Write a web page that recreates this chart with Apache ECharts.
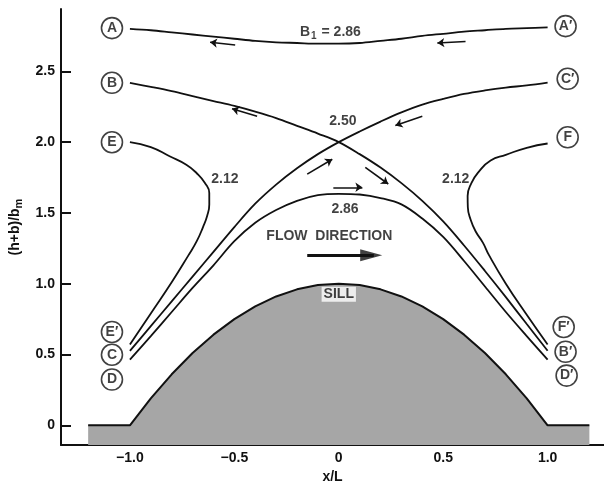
<!DOCTYPE html>
<html><head><meta charset="utf-8">
<script src="https://cdn.jsdelivr.net/npm/echarts@6/dist/echarts.min.js"></script>
<style>html,body{margin:0;padding:0;background:#fff}#c{width:604px;height:489px}</style>
</head><body><div id="c"></div>
<script>
// ---- data ----
const xTicks = [-1, -0.5, 0, 0.5, 1];
const yTicks = [0, 0.5, 1, 1.5, 2, 2.5];
const xTickLabels = ['\u22121.0', '\u22120.5', '0', '0.5', '1.0'];
const yTickLabels = ['0', '0.5', '1.0', '1.5', '2.0', '2.5'];

const sillX = [-1.2, -1.0, -0.9, -0.8, -0.7, -0.6, -0.5, -0.4, -0.3, -0.2, -0.1, 0, 0.1, 0.2, 0.3, 0.4, 0.5, 0.6, 0.7, 0.8, 0.9, 1.0, 1.2];
const sillY = [0, 0, 0.19, 0.36, 0.51, 0.64, 0.75, 0.84, 0.91, 0.96, 0.99, 1.0, 0.99, 0.96, 0.91, 0.84, 0.75, 0.64, 0.51, 0.36, 0.19, 0, 0];

const curveX = [-1.0, -0.9, -0.8, -0.7, -0.6, -0.5, -0.4, -0.3, -0.2, -0.1, 0, 0.1, 0.2, 0.3, 0.4, 0.5, 0.6, 0.7, 0.8, 0.9, 1.0];
const curveA = [2.80, 2.79, 2.775, 2.76, 2.745, 2.73, 2.715, 2.705, 2.70, 2.695, 2.695, 2.70, 2.715, 2.73, 2.75, 2.765, 2.78, 2.79, 2.80, 2.805, 2.81];
const curveB = [2.418, 2.39, 2.36, 2.325, 2.29, 2.255, 2.215, 2.17, 2.115, 2.06, 2.0, 1.915, 1.82, 1.71, 1.585, 1.44, 1.27, 1.09, 0.905, 0.715, 0.526];
const curveC = [0.526, 0.70, 0.875, 1.05, 1.225, 1.40, 1.565, 1.70, 1.815, 1.915, 2.0, 2.075, 2.145, 2.21, 2.265, 2.305, 2.34, 2.365, 2.385, 2.40, 2.42];
const curveD = [0.463, 0.63, 0.80, 0.97, 1.13, 1.30, 1.43, 1.52, 1.585, 1.625, 1.635, 1.63, 1.605, 1.56, 1.46, 1.33, 1.16, 0.98, 0.80, 0.63, 0.463];

const curveEX = [-1.0, -0.9, -0.81, -0.73, -0.68, -0.64, -0.62, -0.62, -0.63, -0.65, -0.68, -0.72, -0.8, -0.9, -1.0];
const curveEY = [2.0, 1.965, 1.90, 1.84, 1.78, 1.71, 1.64, 1.56, 1.48, 1.40, 1.30, 1.20, 1.01, 0.79, 0.57];
const curveFX = [1.0, 0.9, 0.8, 0.727, 0.67, 0.635, 0.617, 0.618, 0.632, 0.655, 0.69, 0.72, 0.8, 0.9, 1.0];
const curveFY = [1.99, 1.96, 1.91, 1.87, 1.79, 1.71, 1.62, 1.54, 1.45, 1.37, 1.29, 1.20, 1.0, 0.78, 0.57];

// small flow arrows: [tail, head]
const arrowTails = [[-0.496, 2.686], [0.607, 2.71], [-0.391, 2.183], [-0.151, 1.774], [0.40, 2.183], [0.127, 1.821], [-0.026, 1.681]];
const arrowHeads = [[-0.616, 2.705], [0.472, 2.70], [-0.511, 2.235], [-0.031, 1.879], [0.271, 2.118], [0.237, 1.704], [0.113, 1.681]];
const flowTail = [-0.151, 1.201];
const flowHead = [0.208, 1.201];

const circleNames = ['A', 'B', 'E', 'E\u2032', 'C', 'D', 'A\u2032', 'C\u2032', 'F', 'F\u2032', 'B\u2032', 'D\u2032'];
const circleX = [-1.086, -1.086, -1.086, -1.086, -1.086, -1.086, 1.086, 1.096, 1.096, 1.077, 1.086, 1.091];
const circleY = [2.805, 2.419, 1.999, 0.659, 0.498, 0.323, 2.819, 2.447, 2.034, 0.694, 0.519, 0.351];

const noteText = ['{b|B}{s|1}{b| = 2.86}', '2.50', '2.12', '2.12', '2.86', 'FLOW  DIRECTION'];
const noteX = [-0.04, 0.02, -0.545, 0.56, 0.03, -0.045];
const noteY = [2.78, 2.148, 1.74, 1.74, 1.529, 1.334];
const sillLabel = ['SILL'];
const sillLabelX = [0.0];
const sillLabelY = [0.925];

// ---- chart ----
const FONT = '"Liberation Sans", Arial, sans-serif';
const zip = (xs, ys) => xs.map((x, i) => [x, ys[i]]);
const curveStyle = { color: '#111', width: 1.8 };
const mkCurve = (data, smooth) => ({
  type: 'line', data, smooth, symbol: 'none', lineStyle: curveStyle, z: 3, silent: true, animation: false
});

const chart = echarts.init(document.getElementById('c'), null, { renderer: 'canvas' });
chart.setOption({
  backgroundColor: '#fff',
  animation: false,
  grid: { left: 61, right: 0, top: 9, bottom: 41, containLabel: false },
  xAxis: {
    type: 'value', min: -1.33, max: 1.27,
    name: 'x/L', nameLocation: 'middle', nameGap: 24,
    nameTextStyle: { fontFamily: FONT, fontSize: 14, fontWeight: 'bold', color: '#111' },
    axisLine: { show: true, onZero: false, lineStyle: { color: '#111', width: 2 } },
    axisTick: { show: true, inside: true, length: 7, customValues: xTicks, lineStyle: { color: '#111', width: 2 } },
    axisLabel: {
      customValues: xTicks, margin: 6, fontFamily: FONT, fontSize: 14, fontWeight: 'bold', color: '#111',
      formatter: v => xTickLabels[xTicks.findIndex(t => Math.abs(t - v) < 1e-6)] ?? ''
    },
    splitLine: { show: false }
  },
  yAxis: {
    type: 'value', min: -0.14, max: 2.94,
    name: '(h+b)/b{sub|m}', nameLocation: 'middle', nameGap: 37, nameRotate: 90,
    nameTextStyle: { fontFamily: FONT, fontSize: 14, fontWeight: 'bold', color: '#111',
      rich: { sub: { fontFamily: FONT, fontSize: 11, fontWeight: 'bold', color: '#111', verticalAlign: 'bottom', padding: [6, 0, 0, 0] } } },
    axisLine: { show: true, onZero: false, lineStyle: { color: '#111', width: 2 } },
    axisTick: { show: true, inside: true, length: 10, customValues: yTicks, lineStyle: { color: '#111', width: 2 } },
    axisLabel: {
      customValues: yTicks, margin: 6, fontFamily: FONT, fontSize: 14, fontWeight: 'bold', color: '#111',
      formatter: v => yTickLabels[yTicks.findIndex(t => Math.abs(t - v) < 1e-6)] ?? ''
    },
    splitLine: { show: false }
  },
  series: [
    {
      type: 'line', data: zip(sillX, sillY), symbol: 'none', smooth: false, z: 1, silent: true,
      lineStyle: { color: '#111', width: 2 },
      areaStyle: { color: '#a6a6a6', opacity: 1, origin: 'start' }
    },
    mkCurve(zip(curveX, curveA), 0.35),
    mkCurve(zip(curveX, curveB), 0.35),
    mkCurve(zip(curveX, curveC), 0.35),
    mkCurve(zip(curveX, curveD), 0.35),
    mkCurve(zip(curveEX, curveEY), 0.5),
    mkCurve(zip(curveFX, curveFY), 0.5),
    {
      type: 'lines', coordinateSystem: 'cartesian2d', z: 4, silent: true,
      symbol: ['none', 'arrow'], symbolSize: 7,
      lineStyle: { color: '#111', width: 1.6, opacity: 1 },
      data: arrowTails.map((t, i) => ({ coords: [t, arrowHeads[i]] }))
    },
    {
      type: 'lines', coordinateSystem: 'cartesian2d', z: 4, silent: true,
      symbol: ['none', 'none'],
      lineStyle: { color: '#111', width: 3, opacity: 1 },
      data: [{ coords: [flowTail, [flowHead[0] - 0.04, flowHead[1]]] }]
    },
    {
      type: 'scatter', z: 5, silent: true,
      symbol: 'path://M0,0 L22,6 L0,12 Z', symbolSize: [22, 12], symbolOffset: [-11, 0],
      itemStyle: { color: '#111' },
      data: [flowHead]
    },
    {
      type: 'scatter', z: 6, silent: true, symbolSize: 1, itemStyle: { color: 'rgba(0,0,0,0)' },
      data: noteX.map((x, i) => ({ value: [x, noteY[i]], name: noteText[i] })),
      label: {
        show: true, position: 'inside', formatter: p => p.name,
        fontFamily: FONT, fontSize: 14, fontWeight: 'bold', color: '#111',
        rich: {
          b: { fontFamily: FONT, fontSize: 14, fontWeight: 'bold', color: '#111' },
          s: { fontFamily: FONT, fontSize: 10, fontWeight: 'bold', color: '#111', padding: [10, 1, 0, 1] }
        }
      }
    },
    {
      type: 'scatter', z: 6, silent: true, symbolSize: 1, itemStyle: { color: 'rgba(0,0,0,0)' },
      data: sillLabelX.map((x, i) => ({ value: [x, sillLabelY[i]], name: sillLabel[i] })),
      label: {
        show: true, position: 'inside', formatter: p => p.name,
        fontFamily: FONT, fontSize: 14, fontWeight: 'bold', color: '#111',
        backgroundColor: '#fff', padding: [1, 2, 0, 2]
      }
    },
    {
      type: 'scatter', z: 7, silent: true, symbol: 'circle', symbolSize: 21,
      itemStyle: { color: '#fff', borderColor: '#111', borderWidth: 1.6 },
      data: circleX.map((x, i) => ({ value: [x, circleY[i]], name: circleNames[i] })),
      label: { show: true, position: 'inside', formatter: p => p.name,
        fontFamily: FONT, fontSize: 14, fontWeight: 'bold', color: '#111' }
    }
  ]
});
</script>
</body></html>
